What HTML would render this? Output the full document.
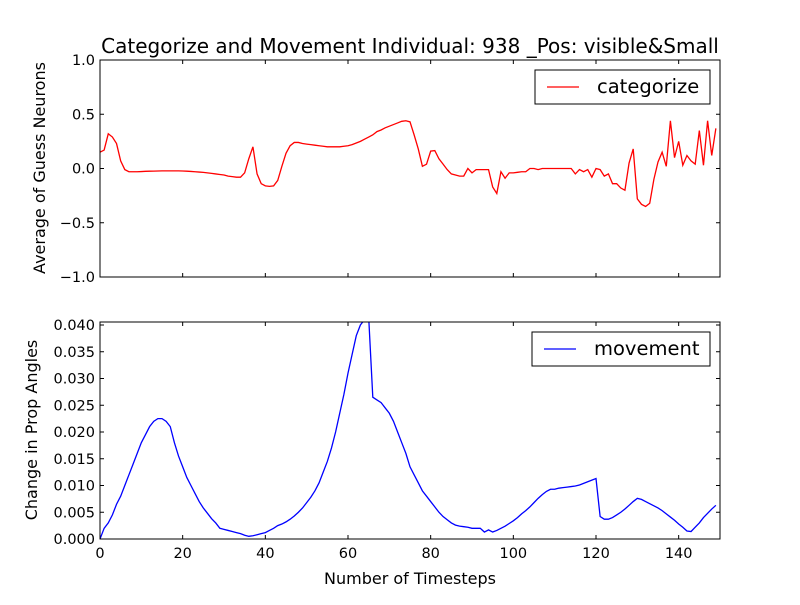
<!DOCTYPE html>
<html><head><meta charset="utf-8"><style>
body{margin:0;background:#fff}
svg text{font-family:"DejaVu Sans","Liberation Sans",sans-serif;fill:#000}
</style></head><body>
<svg id="chart" width="800" height="600" xmlns="http://www.w3.org/2000/svg">
<rect width="800" height="600" fill="#fff"/>
<defs><clipPath id="c1"><rect x="100" y="60" width="620" height="217"/></clipPath>
<clipPath id="c2"><rect x="100" y="322" width="620" height="217"/></clipPath></defs>
<text x="410" y="53" text-anchor="middle" font-size="20">Categorize and Movement Individual: 938 _Pos: visible&amp;Small</text>
<g id="g"></g>
</svg>
<script>
const categorize=[0.15,0.17,0.32,0.29,0.23,0.07,-0.01,-0.03,-0.03,-0.03,
-0.028,-0.026,-0.025,-0.024,-0.023,-0.022,-0.022,-0.022,-0.022,-0.022,
-0.023,-0.025,-0.027,-0.03,-0.033,-0.036,-0.04,-0.045,-0.05,-0.055,
-0.06,-0.07,-0.075,-0.08,-0.08,-0.04,0.09,0.20,-0.05,-0.14,
-0.16,-0.165,-0.16,-0.11,0.02,0.14,0.21,0.24,0.24,0.23,
0.225,0.22,0.215,0.21,0.205,0.2,0.2,0.2,0.2,0.205,
0.21,0.22,0.235,0.25,0.27,0.29,0.31,0.34,0.355,0.375,
0.39,0.405,0.42,0.435,0.44,0.43,0.31,0.18,0.02,0.04,
0.16,0.165,0.09,0.04,-0.01,-0.05,-0.06,-0.07,-0.07,0.00,
-0.04,-0.01,-0.01,-0.01,-0.01,-0.17,-0.23,-0.03,-0.09,-0.04,
-0.04,-0.035,-0.03,-0.03,0.0,0.0,-0.01,0.0,0.0,0.0,
0,0,0,0,0,-0.05,-0.01,-0.03,-0.01,-0.08,
0.0,-0.01,-0.07,-0.05,-0.14,-0.14,-0.18,-0.2,0.05,0.18,
-0.28,-0.33,-0.35,-0.32,-0.1,0.06,0.15,0.02,0.44,0.1,
0.25,0.03,0.12,0.07,0.04,0.35,0.03,0.44,0.12,0.37];
const movement=[0,0.002,0.003,0.0045,0.0065,0.008,0.01,0.012,0.014,0.016,
0.018,0.0195,0.021,0.022,0.0225,0.0225,0.022,0.021,0.018,0.0155,
0.0135,0.0115,0.01,0.0085,0.007,0.0058,0.0048,0.0038,0.003,0.002,
0.0018,0.0016,0.0014,0.0012,0.001,0.0007,0.0005,0.0006,0.0008,0.001,
0.0012,0.0016,0.002,0.0025,0.0028,0.0032,0.0037,0.0043,0.005,0.0058,
0.0068,0.0078,0.009,0.0105,0.0125,0.0145,0.017,0.02,0.0235,0.027,
0.031,0.0345,0.038,0.04,0.041,0.0415,0.0265,0.026,0.0255,0.0245,
0.0235,0.022,0.02,0.018,0.016,0.0135,0.012,0.0105,0.009,0.008,
0.007,0.006,0.005,0.0042,0.0036,0.003,0.0026,0.0024,0.0023,0.0022,
0.002,0.002,0.002,0.0013,0.0017,0.0013,0.0016,0.002,0.0024,0.0029,
0.0034,0.004,0.0047,0.0053,0.006,0.0068,0.0076,0.0083,0.0089,0.0093,
0.0093,0.0095,0.0096,0.0097,0.0098,0.0099,0.0101,0.0104,0.0107,0.011,
0.0113,0.0042,0.0037,0.0037,0.004,0.0045,0.005,0.0056,0.0063,0.007,
0.0076,0.0074,0.007,0.0066,0.0062,0.0058,0.0053,0.0047,0.0041,0.0035,
0.0028,0.0022,0.0015,0.0014,0.0022,0.003,0.004,0.0048,0.0056,0.0063];
const xTicks=[0,20,40,60,80,100,120,140];
const topTicks=[-1.0,-0.5,0.0,0.5,1.0];
const topTickLabels=["\u22121.0","\u22120.5","0.0","0.5","1.0"];
const botTicks=[0,0.005,0.01,0.015,0.02,0.025,0.03,0.035,0.04];
const botTickLabels=["0.000","0.005","0.010","0.015","0.020","0.025","0.030","0.035","0.040"];

const NS="http://www.w3.org/2000/svg";
const g=document.getElementById('g');
function mk(t,a,p){const e=document.createElementNS(NS,t);for(const k in a)e.setAttribute(k,a[k]);(p||g).appendChild(e);return e;}
const X=v=>100+v*620/150;
const Y1=v=>168.5-v*108.5;
const Y2=v=>539-v*5350;
function panel(top,yfn,ticks,labels,data,color,clip,name,ylab,legend,showX){
  const pts=data.map((v,i)=>X(i).toFixed(2)+','+yfn(v).toFixed(2)).join(' ');
  const l=mk('polyline',{points:pts,fill:'none',stroke:color,'stroke-width':1.3,'clip-path':'url(#'+clip+')'});
  
  
  const fr=mk('rect',{x:100,y:top,width:620,height:217,fill:'none',stroke:'#000','stroke-width':1});
  
  
  ticks.forEach((t,i)=>{const y=yfn(t);
    mk('line',{x1:100,x2:104,y1:y,y2:y,stroke:'#000'});mk('line',{x1:716,x2:720,y1:y,y2:y,stroke:'#000'});
    const tx=mk('text',{x:95,y:y+5,'text-anchor':'end','font-size':14.5});tx.textContent=labels[i];
    
    });
  xTicks.forEach(t=>{const x=X(t);
    mk('line',{x1:x,x2:x,y1:top+217,y2:top+213,stroke:'#000'});mk('line',{x1:x,x2:x,y1:top,y2:top+4,stroke:'#000'});
    if(showX){const tx=mk('text',{x:x,y:top+236,'text-anchor':'middle','font-size':14.5});tx.textContent=t;
      
      }});
  const yl=mk('text',{x:0,y:0,'text-anchor':'middle','font-size':16,transform:'translate('+ylab[0]+','+(top+108)+') rotate(-90)'});
  yl.textContent=ylab[1];
  
  
  const lg=mk('g',{});
  
  
  mk('rect',{x:legend[0],y:legend[1],width:legend[2],height:34,fill:'#fff',stroke:'#000'},lg);
  mk('line',{x1:legend[0]+12,x2:legend[0]+44,y1:legend[1]+17,y2:legend[1]+17,stroke:color,'stroke-width':1.3},lg);
  const lt=mk('text',{x:legend[0]+62,y:legend[1]+23,'font-size':19.5},lg);lt.textContent=name;
}
panel(60,Y1,topTicks,topTickLabels,categorize,'#ff0000','c1','categorize',[45,'Average of Guess Neurons'],[535,70,175],false);
panel(322,Y2,botTicks,botTickLabels,movement,'#0000ff','c2','movement',[37,'Change in Prop Angles'],[532,332,178],true);
const xl=mk('text',{x:410,y:584,'text-anchor':'middle','font-size':16});xl.textContent='Number of Timesteps';


</script>
</body></html>
